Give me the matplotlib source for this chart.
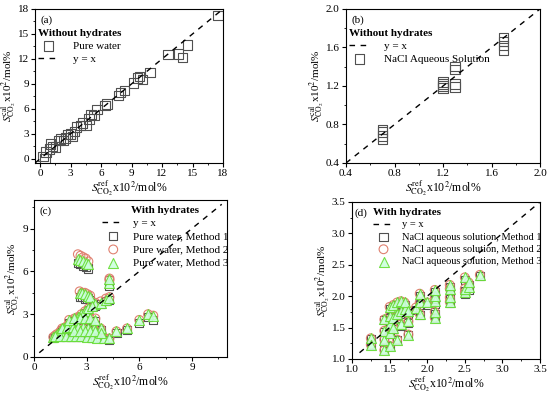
import numpy as np
import matplotlib
matplotlib.use('Agg')
import matplotlib.pyplot as plt
from matplotlib.ticker import MultipleLocator, AutoMinorLocator

plt.rcParams['font.family'] = ['Liberation Serif', 'DejaVu Serif']
plt.rcParams['mathtext.fontset'] = 'stix'
plt.rcParams['font.size'] = 8

# (a) sin hidratos, agua pura
a_ref = [0.3, 0.5, 0.6, 0.9, 1.0, 1.2, 1.5, 1.8, 2.0, 2.3, 2.5, 2.7, 3.0, 3.2, 3.4,
         3.6, 4.0, 4.2, 4.5, 4.8, 5.0, 5.3, 5.6, 6.4, 6.6, 7.7, 7.9, 8.3, 9.2, 9.6,
         9.8, 10.1, 10.8, 12.6, 13.6, 14.0, 14.5, 17.5]
a_cal = [0.3, 0.0, 0.8, 1.2, 1.8, 1.5, 1.4, 2.2, 2.4, 2.2, 2.5, 2.9, 3.0, 2.7, 3.3,
         3.8, 4.0, 4.3, 4.0, 4.8, 5.3, 5.2, 5.9, 6.4, 6.6, 7.6, 8.0, 8.2, 9.1, 9.7,
         9.9, 9.5, 10.4, 12.5, 12.6, 12.2, 13.7, 17.2]

# (b) sin hidratos, solución de NaCl
b_ref = [0.7, 0.7, 0.7, 0.7, 1.2, 1.2, 1.2, 1.2, 1.3, 1.3, 1.3, 1.3, 1.7, 1.7, 1.7, 1.7]
b_cal = [0.65, 0.68, 0.72, 0.75, 1.18, 1.2, 1.22, 1.24, 1.19, 1.22, 1.37, 1.40,
         1.57, 1.62, 1.66, 1.70]

# (c) con hidratos, agua pura (métodos 1, 2, 3)
c_ref = [2.5, 2.65, 2.8, 2.95, 3.1, 4.3, 4.3, 2.6, 2.75, 2.9, 3.05, 3.2, 3.5, 3.8, 4.1, 4.3,
         1.1, 1.3, 1.5, 1.7, 1.9, 2.1, 2.3, 2.5, 2.7, 2.9, 3.1, 3.3,
         1.2, 1.5, 1.8, 2.1, 2.4, 2.7, 3.0, 3.3, 3.6, 4.0, 4.3,
         1.6, 1.9, 2.2, 2.5, 2.8, 3.1, 3.4, 3.8,
         2.0, 2.3, 2.6, 2.9, 3.2, 3.5,
         2.3, 2.6, 2.9, 3.2, 3.5, 3.8,
         4.7, 5.3, 6.0, 6.5, 6.8]
c_m1 = [6.6, 6.5, 6.4, 6.3, 6.2, 5.0, 5.4, 4.2, 4.2, 4.1, 4.1, 4.0, 3.6, 3.7, 3.9, 4.0,
        1.3, 1.5, 1.7, 1.9, 2.1, 2.3, 2.5, 2.7, 2.9, 3.1, 3.3, 3.5,
        1.4, 1.4, 1.4, 1.4, 1.4, 1.4, 1.4, 1.3, 1.3, 1.3, 1.2,
        1.9, 2.0, 2.0, 2.0, 2.0, 2.0, 1.9, 1.9,
        2.4, 2.5, 2.6, 2.6, 2.5, 2.5,
        1.7, 1.7, 1.7, 1.7, 1.7, 1.6,
        1.7, 1.9, 2.4, 2.8, 2.6]
c_m2 = [7.2, 7.1, 7.0, 6.9, 6.7, 5.5, 5.4, 4.6, 4.5, 4.5, 4.4, 4.3, 3.8, 3.9, 4.1, 4.2,
        1.4, 1.6, 1.8, 2.0, 2.2, 2.4, 2.6, 2.8, 3.0, 3.2, 3.4, 3.6,
        1.5, 1.5, 1.5, 1.5, 1.5, 1.5, 1.4, 1.4, 1.4, 1.3, 1.3,
        2.0, 2.1, 2.1, 2.1, 2.1, 2.1, 2.0, 2.0,
        2.6, 2.7, 2.8, 2.8, 2.7, 2.7,
        1.8, 1.8, 1.8, 1.8, 1.8, 1.7,
        1.8, 2.0, 2.6, 3.0, 2.9]
c_m3 = [6.9, 6.8, 6.7, 6.6, 6.5, 5.2, 5.5, 4.5, 4.5, 4.4, 4.3, 4.2, 3.7, 3.8, 4.0, 4.1,
        1.4, 1.6, 1.8, 2.0, 2.2, 2.4, 2.6, 2.8, 3.0, 3.2, 3.4, 3.6,
        1.5, 1.5, 1.5, 1.5, 1.5, 1.5, 1.4, 1.4, 1.3, 1.3, 1.3,
        2.0, 2.1, 2.1, 2.1, 2.1, 2.0, 2.0, 2.0,
        2.6, 2.7, 2.7, 2.7, 2.7, 2.6,
        1.8, 1.8, 1.8, 1.8, 1.8, 1.7,
        1.8, 2.0, 2.6, 3.0, 2.9]

# (d) con hidratos, solución de NaCl (métodos 1, 2, 3)
d_ref = [1.25, 1.25, 1.43, 1.43, 1.43, 1.43, 1.5, 1.5, 1.5, 1.5, 1.5,
         1.55, 1.55, 1.55, 1.6, 1.6, 1.6, 1.65, 1.65, 1.65, 1.7, 1.7,
         1.75, 1.75, 1.75, 1.85, 1.9, 1.9, 1.9, 2.0, 2.1, 2.1, 2.1, 2.1, 2.1,
         2.3, 2.3, 2.3, 2.3, 2.5, 2.5, 2.5, 2.55, 2.55, 2.7]
d_m1 = [1.32, 1.22, 1.14, 1.30, 1.43, 1.62, 1.20, 1.40, 1.52, 1.65, 1.80,
        1.48, 1.63, 1.82, 1.30, 1.68, 1.86, 1.52, 1.72, 1.88, 1.76, 1.86,
        1.38, 1.58, 1.72, 1.78, 1.70, 1.86, 2.00, 1.86, 1.65, 1.72, 1.88, 1.96, 2.06,
        1.90, 1.95, 2.08, 2.15, 2.04, 2.08, 2.26, 2.10, 2.18, 2.32]
d_m2 = [1.33, 1.23, 1.14, 1.31, 1.45, 1.63, 1.21, 1.42, 1.55, 1.68, 1.83,
        1.50, 1.66, 1.86, 1.31, 1.71, 1.90, 1.55, 1.76, 1.92, 1.80, 1.90,
        1.39, 1.60, 1.76, 1.82, 1.72, 1.90, 2.04, 1.90, 1.66, 1.75, 1.92, 2.00, 2.10,
        1.91, 1.98, 2.12, 2.18, 2.06, 2.12, 2.30, 2.14, 2.22, 2.34]
d_m3 = [1.33, 1.23, 1.14, 1.31, 1.45, 1.63, 1.21, 1.42, 1.55, 1.68, 1.83,
        1.50, 1.66, 1.86, 1.31, 1.71, 1.90, 1.55, 1.76, 1.92, 1.80, 1.90,
        1.39, 1.60, 1.76, 1.82, 1.72, 1.90, 2.04, 1.90, 1.66, 1.75, 1.92, 2.00, 2.10,
        1.91, 1.98, 2.12, 2.18, 2.06, 2.12, 2.30, 2.14, 2.22, 2.34]

xlab = r'$S_{\mathrm{CO_2}}^{\mathrm{ref}}$x10$^2$/mol%'
ylab = r'$S_{\mathrm{CO_2}}^{\mathrm{cal}}$x10$^2$/mol%'

fig = plt.figure(figsize=(5.5, 3.95), dpi=100)
W, H = 550, 395


def make_ax(x0, y0, x1, y1):
    return fig.add_axes([x0 / W, 1 - y1 / H, (x1 - x0) / W, (y1 - y0) / H])


def estilo(ax, lim, step, line):
    ax.set_xlim(lim)
    ax.set_ylim(lim)
    ax.xaxis.set_major_locator(MultipleLocator(step))
    ax.yaxis.set_major_locator(MultipleLocator(step))
    ax.xaxis.set_minor_locator(AutoMinorLocator(2))
    ax.yaxis.set_minor_locator(AutoMinorLocator(2))
    ax.tick_params(which='both', direction='out', labelsize=8, pad=1.5)
    ax.tick_params(which='major', length=3)
    ax.tick_params(which='minor', length=1.5)
    ax.set_xlabel(xlab, fontsize=8.5, labelpad=0)
    ax.set_ylabel(ylab, fontsize=8, labelpad=0)
    ln, = ax.plot(line, line, 'k--', lw=1, dashes=(4, 4), label='y = x')
    return ln


sq = dict(marker='s', s=46, facecolors='none', edgecolors='#505050', linewidths=0.8)
tri = dict(marker='^', s=52, facecolors='#ccffdd', edgecolors='#66dd33', linewidths=0.8,
           alpha=0.9)
cir = dict(marker='o', s=40, facecolors='none', edgecolors='#e08070', linewidths=0.8)
sq2 = dict(marker='s', s=34, facecolors='none', edgecolors='#505050', linewidths=0.8)
leg_kw = dict(frameon=False, alignment='left', borderaxespad=0, labelspacing=0.3,
              title_fontproperties={'weight': 'bold', 'size': 8})

# (a)
ax = make_ax(35, 9, 223, 163)
ln = estilo(ax, (-0.5, 18), 3, [-0.5, 18])
h1 = ax.scatter(a_ref, a_cal, label='Pure water', **sq)
ax.text(0.03, 0.96, '(a)', transform=ax.transAxes, fontsize=8, va='top')
ax.legend(handles=[h1, ln], loc='upper left', bbox_to_anchor=(-0.01, 0.9),
          title='Without hydrates', fontsize=8, handletextpad=1.2, **leg_kw)

# (b)
ax = make_ax(346, 9, 540, 163)
ln = estilo(ax, (0.4, 2.0), 0.4, [0.4, 2.0])
h1 = ax.scatter(b_ref, b_cal, label='NaCl Aqueous Solution', **sq)
ax.text(0.03, 0.96, '(b)', transform=ax.transAxes, fontsize=8, va='top')
ax.legend(handles=[ln, h1], loc='upper left', bbox_to_anchor=(-0.01, 0.9),
          title='Without hydrates', fontsize=8, handletextpad=1.2, **leg_kw)

# (c)
ax = make_ax(34, 200, 227, 357)
ln = estilo(ax, (0, 11), 3, [0.3, 10.7])
h1 = ax.scatter(c_ref, c_m1, label='Pure water, Method 1', **sq2)
h2 = ax.scatter(c_ref, c_m2, label='Pure water, Method 2', **cir)
h3 = ax.scatter(c_ref, c_m3, label='Pure water, Method 3', **tri)
ax.text(0.03, 0.96, '(c)', transform=ax.transAxes, fontsize=8, va='top')
lg = ax.legend(handles=[ln, h1, h2, h3], loc='upper left', bbox_to_anchor=(0.33, 0.99),
               title='With hydrates', fontsize=8, handletextpad=0.8, **leg_kw)
lg.set_alignment('center')

# (d)
ax = make_ax(352, 202, 540, 359)
ln = estilo(ax, (1.0, 3.5), 0.5, [1.1, 3.5])
h1 = ax.scatter(d_ref, d_m1, label='NaCl aqueous solution, Method 1', **sq2)
h2 = ax.scatter(d_ref, d_m2, label='NaCl aqueous solution, Method 2', **cir)
h3 = ax.scatter(d_ref, d_m3, label='NaCl aqueous solution, Method 3', **tri)
ax.text(0.012, 0.96, '(d)', transform=ax.transAxes, fontsize=8, va='top')
ax.legend(handles=[ln, h1, h2, h3], loc='upper left', bbox_to_anchor=(0.09, 0.99),
          title='With hydrates', fontsize=7.5, handletextpad=0.8, **leg_kw)

fig.savefig('out.png', dpi=100)
